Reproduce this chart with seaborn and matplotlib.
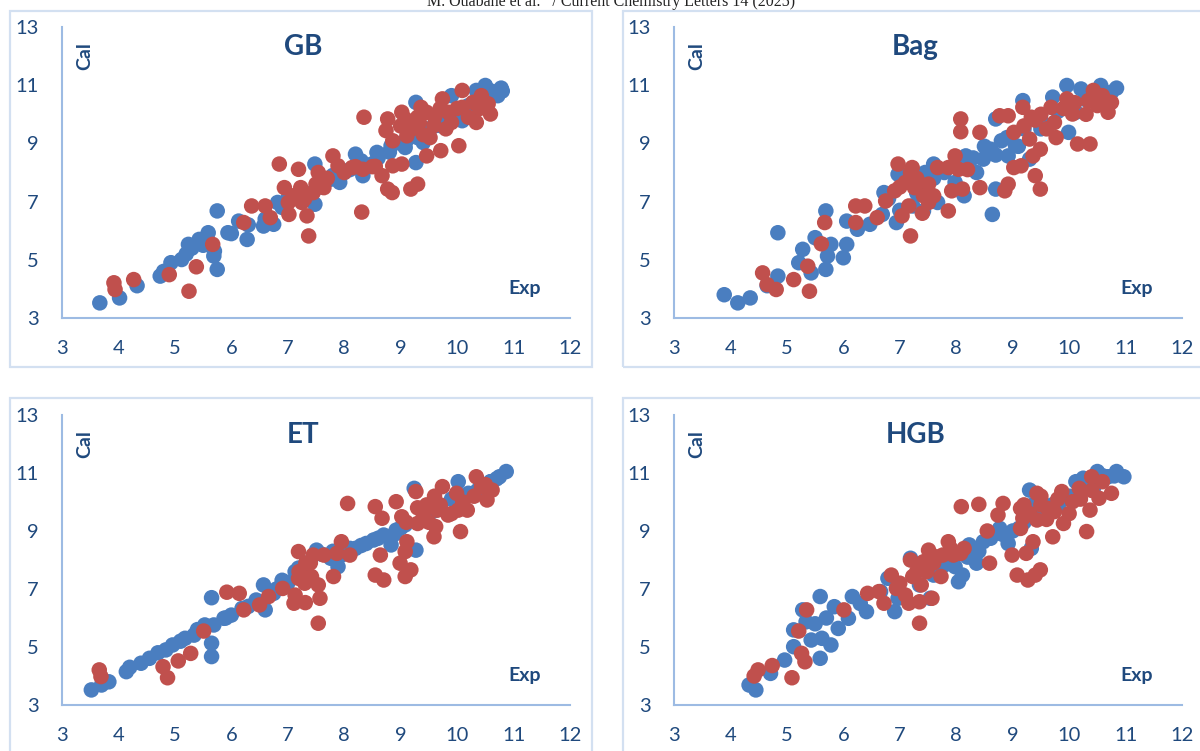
import matplotlib
matplotlib.use('Agg')
import matplotlib.pyplot as plt
import seaborn as sns
import pandas as pd
from matplotlib.patches import Rectangle

# ---------------- data (Exp, Cal) ----------------
gb_train_exp = [3.67, 4.02, 4.33, 4.74, 4.93, 5.12, 5.24, 5.43, 5.59, 5.69, 5.75, 5.75, 5.94, 6.13, 6.28,
                6.57, 6.75, 6.82, 7.19, 7.48, 7.48, 7.76, 7.92, 8.20, 8.33, 8.58, 8.83, 9.27, 9.27, 9.08,
                9.40, 9.71, 9.90, 10.09, 10.34, 10.50, 10.65, 10.78, 10.72, 10.21, 4.87, 4.80, 5.30, 5.60,
                5.70, 6.00, 7.00, 7.30, 8.00, 8.50, 9.00, 9.50, 9.90, 10.30,
                7.60, 7.80, 8.10, 8.30, 8.60, 8.80, 9.10, 9.30, 9.60, 9.80, 10.00, 10.20, 10.40, 10.60,
                10.80, 6.30, 6.60, 6.90, 5.20, 5.50]
gb_train_cal = [3.52, 3.69, 4.11, 4.44, 4.90, 5.01, 5.53, 5.70, 5.93, 5.13, 4.67, 6.68, 5.93, 6.33, 5.70,
                6.16, 6.22, 6.97, 7.20, 6.91, 8.29, 7.77, 7.66, 8.63, 7.89, 8.69, 8.92, 8.34, 10.41, 8.86,
                9.03, 9.61, 10.64, 9.78, 10.82, 10.99, 10.76, 10.90, 10.64, 10.07, 4.55, 4.60, 5.40, 5.60,
                5.30, 5.90, 7.10, 7.30, 8.00, 8.30, 9.00, 9.50, 10.00, 10.40,
                7.50, 7.90, 8.10, 8.40, 8.50, 8.70, 9.10, 9.20, 9.60, 9.80, 10.10, 10.30, 10.60, 10.80,
                10.80, 6.20, 6.40, 6.80, 5.20, 5.50]
gb_test_exp = [3.92, 3.94, 4.27, 4.90, 5.25, 5.38, 5.67, 6.22, 6.36, 6.60, 6.69, 6.85, 6.94, 7.01, 7.02,
               7.19, 7.23, 7.25, 7.34, 7.37, 7.45, 7.54, 7.64, 7.80, 7.89, 8.14, 8.33, 8.31, 8.35, 8.55,
               8.67, 8.77, 8.85, 8.86, 9.02, 8.77, 8.74, 8.86, 9.02, 9.11, 9.18, 9.30, 9.33, 9.36, 9.46,
               9.52, 9.59, 9.71, 9.74, 9.90, 10.03, 10.09, 10.09, 10.28, 10.34, 10.43, 10.59, 10.55, 9.08,
               9.46, 9.84,
               9.20, 9.40, 9.60, 9.80, 10.00, 10.20, 9.30, 9.00, 9.70, 10.40, 7.10, 7.30, 7.50, 7.70,
               8.00, 8.20, 8.50]
gb_test_cal = [4.21, 3.98, 4.32, 4.49, 3.92, 4.76, 5.53, 6.28, 6.85, 6.85, 6.45, 8.29, 7.48, 6.97, 6.56,
               8.11, 7.48, 6.97, 6.51, 5.82, 7.31, 8.00, 7.48, 8.57, 8.23, 8.17, 8.11, 6.64, 9.90, 8.21,
               7.89, 7.43, 7.31, 8.23, 8.29, 9.84, 9.44, 9.09, 10.07, 9.26, 7.43, 7.60, 9.72, 10.24, 8.57,
               9.20, 9.61, 8.75, 10.53, 9.72, 8.92, 10.82, 10.24, 10.41, 9.72, 10.64, 10.01, 10.36, 9.84,
               10.07, 10.07,
               9.50, 9.30, 9.90, 9.50, 10.20, 9.90, 9.90, 9.60, 10.20, 10.20, 7.20, 7.10, 7.60, 7.80,
               8.00, 8.20, 8.20]

bag_train_exp = [3.89, 4.13, 4.35, 4.84, 4.65, 4.84, 5.21, 5.28, 5.43, 5.50, 5.69, 5.69, 5.72, 5.78, 6.00,
                 6.06, 6.06, 6.25, 6.47, 6.72, 6.69, 6.94, 6.97, 7.23, 7.42, 7.45, 7.60, 7.67, 7.79, 7.98,
                 8.17, 8.14, 8.36, 8.48, 8.64, 8.61, 8.70, 8.80, 8.70, 8.92, 9.05, 9.18, 9.30, 9.49, 9.71,
                 9.99, 9.96, 10.21, 10.56, 10.75, 10.84, 10.12,
                 8.50, 8.70, 8.90, 9.10, 9.20, 9.50, 9.80, 10.30, 10.60, 7.30, 7.60, 8.00, 8.30, 6.80, 7.00]
bag_train_cal = [3.80, 3.52, 3.69, 5.93, 4.11, 4.44, 4.90, 5.36, 4.55, 5.76, 6.68, 4.67, 5.13, 5.53, 5.07,
                 5.53, 6.33, 6.05, 6.22, 7.31, 6.56, 6.28, 7.94, 6.85, 6.68, 8.00, 8.29, 6.97, 8.00, 7.66,
                 8.57, 7.20, 8.00, 8.46, 6.56, 8.80, 7.43, 9.09, 9.84, 8.57, 8.92, 10.47, 8.46, 9.84, 10.59,
                 9.38, 10.99, 10.87, 10.99, 10.76, 10.90, 10.07,
                 8.90, 8.60, 9.20, 8.90, 9.50, 9.50, 10.10, 10.50, 10.80, 7.30, 7.80, 8.20, 8.50, 7.10, 6.70]
bag_test_exp = [4.57, 4.65, 4.81, 5.12, 5.40, 5.37, 5.61, 5.67, 6.22, 6.38, 6.22, 6.60, 6.75, 6.91, 6.97,
                7.04, 7.16, 7.19, 7.22, 7.26, 7.19, 7.10, 7.42, 7.51, 7.51, 7.67, 7.86, 7.86, 7.98, 8.04,
                7.92, 8.08, 8.08, 8.11, 8.42, 8.42, 8.77, 8.92, 8.86, 8.92, 9.02, 9.15, 9.02, 9.18, 9.33,
                9.30, 9.36, 9.40, 9.49, 9.49, 9.68, 9.77, 9.74, 9.96, 10.06, 10.15, 10.37, 10.34, 10.43,
                10.59, 10.69, 10.75,
                9.40, 9.60, 9.90, 10.10, 10.30, 10.50, 9.20, 9.50, 7.30, 7.00, 7.60, 7.40, 8.20]
bag_test_cal = [4.55, 4.15, 3.98, 4.32, 3.92, 4.78, 5.55, 6.28, 6.85, 6.85, 6.28, 6.45, 7.02, 7.37, 8.29,
                6.51, 6.85, 5.82, 8.17, 7.48, 8.00, 7.66, 7.20, 7.60, 6.97, 8.17, 6.68, 8.17, 8.57, 8.11,
                7.37, 9.84, 9.40, 7.43, 9.38, 7.48, 9.95, 9.95, 7.37, 7.60, 8.17, 8.23, 9.38, 10.24, 9.90,
                9.15, 8.57, 7.89, 7.43, 8.80, 10.24, 9.20, 9.72, 10.53, 10.01, 8.98, 8.98, 10.47, 10.82,
                10.64, 10.07, 10.41,
                9.80, 9.50, 10.20, 10.40, 10.00, 10.30, 9.60, 10.00, 7.80, 7.50, 7.20, 6.60, 8.10]

et_train_exp = [3.52, 3.70, 3.83, 4.14, 4.40, 4.55, 4.84, 4.96, 5.18, 5.34, 5.53, 5.65, 5.65, 5.65, 5.69,
                5.87, 6.00, 6.19, 6.44, 6.57, 6.60, 6.75, 6.94, 7.13, 7.32, 7.51, 7.76, 7.89, 7.95, 8.20,
                8.39, 8.52, 8.70, 8.83, 8.92, 9.27, 9.24, 9.08, 9.40, 9.71, 10.02, 10.02, 10.34, 10.59,
                10.75, 10.87, 10.47, 7.19,
                6.80, 7.00, 7.60, 7.80, 8.00, 8.10, 8.30, 8.60, 8.90, 9.00, 9.60, 9.90, 10.10, 10.20,
                10.40, 10.60, 10.70, 4.20, 4.70, 5.10, 5.40, 5.90, 6.30, 6.90, 9.50]
et_train_cal = [3.52, 3.69, 3.80, 4.15, 4.44, 4.61, 4.90, 5.07, 5.30, 5.41, 5.76, 5.13, 4.67, 6.70, 5.76,
                5.99, 6.10, 6.33, 6.62, 7.14, 6.28, 6.85, 7.25, 7.60, 7.89, 8.34, 8.06, 7.77, 8.17, 8.40,
                8.57, 8.69, 8.86, 8.52, 9.03, 8.34, 10.47, 9.21, 9.44, 9.78, 10.70, 10.07, 10.36, 10.70,
                10.87, 11.05, 10.59, 7.72,
                7.00, 7.20, 8.20, 8.30, 8.30, 8.40, 8.50, 8.75, 8.90, 9.10, 9.70, 10.10, 10.20, 10.30,
                10.50, 10.70, 10.80, 4.30, 4.80, 5.20, 5.60, 6.00, 6.40, 7.30, 9.60]
et_test_exp = [3.66, 3.69, 4.79, 4.87, 5.06, 5.28, 5.51, 5.92, 6.14, 6.22, 6.50, 6.66, 6.91, 7.11, 7.13,
               7.19, 7.19, 7.31, 7.32, 7.42, 7.45, 7.54, 7.57, 7.54, 7.64, 7.81, 7.87, 7.95, 8.10, 8.06,
               8.55, 8.55, 8.70, 8.64, 8.67, 8.92, 8.99, 9.08, 9.08, 9.18, 9.11, 9.02, 9.27, 9.30, 9.46,
               9.59, 9.62, 9.65, 9.74, 9.84, 10.02, 10.06, 9.99, 10.18, 10.34, 10.43, 10.53, 10.62,
               9.40, 9.50, 9.70, 9.90, 10.10, 10.30, 9.30, 9.60, 10.50, 9.10, 7.20, 7.40, 7.30]
et_test_cal = [4.21, 3.98, 4.32, 3.94, 4.52, 4.78, 5.55, 6.89, 6.85, 6.28, 6.45, 6.74, 7.02, 6.51, 6.79,
               8.29, 7.37, 6.53, 7.89, 7.43, 8.17, 7.14, 6.68, 5.82, 8.17, 7.43, 8.23, 8.63, 8.17, 9.95,
               9.84, 7.48, 7.31, 8.17, 9.44, 10.01, 7.89, 7.43, 8.29, 7.66, 8.63, 9.49, 10.36, 9.26, 9.90,
               8.80, 9.15, 9.72, 10.53, 9.55, 9.72, 8.98, 10.30, 9.72, 10.87, 10.53, 10.07, 10.41,
               9.60, 9.30, 9.90, 9.60, 10.00, 10.20, 9.80, 10.20, 10.60, 9.30, 7.60, 7.90, 7.20]

hgb_train_exp = [4.33, 4.45, 4.71, 4.96, 5.12, 5.12, 5.28, 5.34, 5.43, 5.59, 5.59, 5.62, 5.78, 5.84, 5.91,
                 6.09, 6.16, 6.41, 6.66, 6.79, 6.91, 6.97, 7.19, 7.35, 7.54, 7.60, 7.79, 7.98, 8.04, 8.11,
                 8.23, 8.36, 8.48, 8.61, 8.77, 8.86, 8.92, 9.11, 9.30, 9.33, 9.36, 9.62, 9.81, 10.12, 10.25,
                 10.50, 10.69, 10.84, 10.97, 10.43,
                 8.80, 9.00, 9.20, 9.40, 9.50, 9.70, 10.00, 10.30, 10.60, 10.80, 8.20, 8.40, 7.70, 7.90,
                 7.00, 6.30, 5.50, 5.70]
hgb_train_cal = [3.69, 3.52, 4.09, 4.55, 5.01, 5.59, 6.28, 5.87, 5.24, 6.74, 4.61, 5.30, 5.07, 6.39, 5.64,
                 5.99, 6.74, 6.22, 6.91, 7.37, 6.22, 6.68, 8.06, 7.14, 6.68, 7.48, 7.83, 7.77, 7.25, 7.48,
                 8.52, 7.89, 8.63, 8.75, 9.09, 8.86, 8.57, 9.09, 10.41, 8.40, 9.90, 9.55, 9.90, 10.70, 10.82,
                 11.05, 10.87, 11.05, 10.87, 10.47,
                 8.90, 9.00, 9.30, 9.50, 9.60, 9.90, 10.20, 10.60, 10.90, 10.90, 8.10, 8.30, 7.60, 7.90,
                 6.90, 6.50, 5.80, 6.00]
hgb_test_exp = [4.42, 4.49, 4.74, 5.09, 5.21, 5.26, 5.32, 5.35, 6.01, 6.43, 6.63, 6.72, 6.85, 6.94, 7.10,
                7.16, 7.19, 7.23, 7.35, 7.35, 7.38, 7.42, 7.48, 7.51, 7.57, 7.64, 7.73, 7.76, 7.86, 7.95,
                8.08, 8.14, 8.09, 8.40, 8.55, 8.59, 8.74, 8.83, 8.99, 9.08, 9.14, 9.14, 9.24, 9.27, 9.36,
                9.43, 9.40, 9.49, 9.43, 9.62, 9.71, 9.87, 9.90, 10.06, 10.18, 10.31, 10.37, 10.40, 10.53,
                10.59, 10.75, 9.74, 9.18,
                9.30, 9.50, 9.60, 9.80, 10.00, 10.20, 10.40, 9.20, 9.50, 7.00, 7.60, 7.90, 7.30]
hgb_test_cal = [4.00, 4.21, 4.36, 3.94, 5.55, 4.78, 4.49, 6.28, 6.28, 6.85, 6.91, 6.51, 7.48, 7.02, 6.79,
                6.51, 8.00, 7.43, 5.82, 6.56, 7.14, 7.94, 7.60, 8.34, 6.68, 8.11, 7.43, 8.17, 8.63, 8.17,
                8.23, 8.40, 9.84, 9.92, 9.00, 7.89, 9.55, 9.95, 8.17, 7.48, 9.78, 9.09, 8.23, 7.31, 8.63,
                10.30, 7.48, 7.66, 9.38, 9.78, 8.80, 10.36, 9.26, 10.01, 10.47, 8.98, 9.72, 10.87, 10.13,
                10.70, 10.30, 9.67, 9.44,
                9.60, 9.90, 9.40, 10.10, 9.60, 10.10, 10.40, 9.90, 10.20, 7.20, 7.90, 8.40, 7.60]

panel_titles = ["GB", "Bag", "ET", "HGB"]
x_ticks = [3, 4, 5, 6, 7, 8, 9, 10, 11, 12]
y_ticks = [3, 5, 7, 9, 11, 13]
header = "M. Ouabane et al.   / Current Chemistry Letters 14 (2025)"

# ---------------- style ----------------
sns.set_theme(style='white')
plt.rcParams['font.family'] = ['Lato', 'DejaVu Sans']

BLUE = '#4A7EC0'
RED = '#C0504D'
TXT = '#1F497D'
AXC = '#9DBBE3'
FRAME = '#D3E0F1'

W, H = 1200, 751
fig = plt.figure(figsize=(W / 100, H / 100), dpi=100)
fig.patch.set_facecolor('white')


def frac_rect(x0, y0, x1, y1):
    return [x0 / W, 1 - y1 / H, (x1 - x0) / W, (y1 - y0) / H]


# panel frames
for (x0, y0, x1, y1) in [(10, 11, 592, 367), (623, 11, 1205, 367),
                         (10, 398, 592, 760), (623, 398, 1205, 760)]:
    r = frac_rect(x0, y0, x1, y1)
    fig.add_artist(Rectangle((r[0], r[1]), r[2], r[3], transform=fig.transFigure,
                             fill=False, edgecolor=FRAME, linewidth=1.6, zorder=0))

panels = [
    (gb_train_exp, gb_train_cal, gb_test_exp, gb_test_cal, (62, 27, 570, 318)),
    (bag_train_exp, bag_train_cal, bag_test_exp, bag_test_cal, (674, 27, 1182, 318)),
    (et_train_exp, et_train_cal, et_test_exp, et_test_cal, (62, 415, 570, 705)),
    (hgb_train_exp, hgb_train_cal, hgb_test_exp, hgb_test_cal, (674, 415, 1182, 705)),
]

for (tx, ty, sx, sy, box), title in zip(panels, panel_titles):
    ax = fig.add_axes(frac_rect(*box))
    df = pd.concat([
        pd.DataFrame({'Exp': tx, 'Cal': ty, 'set': 'Training'}),
        pd.DataFrame({'Exp': sx, 'Cal': sy, 'set': 'Test'}),
    ], ignore_index=True)
    sns.scatterplot(data=df, x='Exp', y='Cal', hue='set',
                    palette={'Training': BLUE, 'Test': RED},
                    s=125, linewidth=0, alpha=1, legend=False, ax=ax, clip_on=False)
    ax.set_xlim(3, 12)
    ax.set_ylim(3, 13)
    ax.set_xticks(x_ticks)
    ax.set_yticks(y_ticks)
    ax.set_xlabel('')
    ax.set_ylabel('')
    ax.set_facecolor('none')
    for side in ['top', 'right']:
        ax.spines[side].set_visible(False)
    for side in ['left', 'bottom']:
        ax.spines[side].set_color(AXC)
        ax.spines[side].set_linewidth(1.5)
    ax.tick_params(axis='both', length=0, labelsize=14.5, labelcolor=TXT)
    ax.tick_params(axis='x', pad=16)
    ax.tick_params(axis='y', pad=17)
    ax.grid(False)
    ax.text(0.475, 0.93, title, transform=ax.transAxes, ha='center', va='center',
            fontsize=20, fontweight='bold', color=TXT)
    ax.text(0.045, 0.90, 'Cal', transform=ax.transAxes, ha='center', va='center',
            rotation=90, fontsize=14, fontweight='bold', color=TXT)
    ax.text(0.91, 0.10, 'Exp', transform=ax.transAxes, ha='center', va='center',
            fontsize=14, fontweight='bold', color=TXT)

fig.text(611 / W, 1 - 2 / H, header, ha='center', va='center', fontsize=11.5,
         family=['Liberation Serif', 'DejaVu Serif'], color='#222222')

fig.savefig('out.png', dpi=100, facecolor='white')
